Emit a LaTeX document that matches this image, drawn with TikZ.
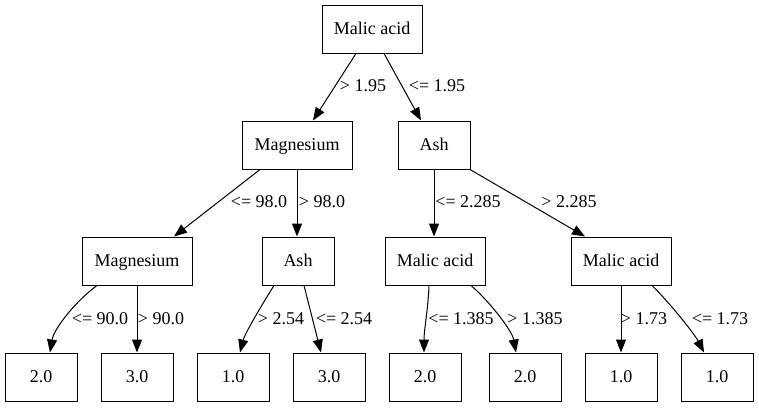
\documentclass[tikz,border=0pt]{standalone}
\usepackage{fontspec}
\setmainfont{Liberation Serif}
\usetikzlibrary{arrows.meta}
\begin{document}
\begin{tikzpicture}[x=1pt,y=1pt,
  box/.style={draw,line width=1pt,minimum height=48pt,inner sep=0pt,text height=13.5pt,text depth=3.5pt,font=\fontsize{18}{21}\selectfont},
  malic/.style={box,minimum width=100pt},
  magn/.style={box,minimum width=110pt},
  small/.style={box,minimum width=72pt},
  lbl/.style={inner sep=0pt,text height=13.5pt,text depth=3.5pt,font=\fontsize{18}{21}\selectfont},
  edge/.style={line width=1pt,-{Triangle[length=13pt,width=10pt]}}]
\useasboundingbox (0,0) rectangle (759,-407);
% nodes
\node[malic] (root) at (372,-29) {Malic acid};
\node[magn] (mg1) at (297,-145) {Magnesium};
\node[small] (ash1) at (434,-145) {Ash};
\node[magn] (mg2) at (137,-261) {Magnesium};
\node[small] (ash2) at (298,-261) {Ash};
\node[malic] (ma2) at (435,-261) {Malic acid};
\node[malic] (ma3) at (621,-261) {Malic acid};
\node[small] (l1) at (41,-377) {2.0};
\node[small] (l2) at (137,-377) {3.0};
\node[small] (l3) at (233,-377) {1.0};
\node[small] (l4) at (329,-377) {3.0};
\node[small] (l5) at (425,-377) {2.0};
\node[small] (l6) at (525,-377) {2.0};
\node[small] (l7) at (621,-377) {1.0};
\node[small] (l8) at (717,-377) {1.0};
% edges
\draw[edge] ([xshift=-16pt]root.south) -- ([xshift=16pt]mg1.north);
\draw[edge] ([xshift=12pt]root.south) -- ([xshift=-13pt]ash1.north);
\draw[edge] ([xshift=-37pt]mg1.south) -- ([xshift=37pt]mg2.north);
\draw[edge] (mg1.south) -- ([xshift=-1pt]ash2.north);
\draw[edge] (ash1.south) -- ([xshift=-1pt]ma2.north);
\draw[edge] ([xshift=36pt]ash1.south) -- ([xshift=-36pt]ma3.north);
\draw[edge] ([xshift=-40pt]mg2.south) .. controls (77,-300) and (54,-328) .. ([xshift=9pt]l1.north);
\draw[edge] (mg2.south) -- (l2.north);
\draw[edge] ([xshift=-24pt]ash2.south) .. controls (263,-303) and (245,-333) .. ([xshift=7pt]l3.north);
\draw[edge] ([xshift=6pt]ash2.south) -- ([xshift=-8pt]l4.north);
\draw[edge] ([xshift=-6pt]ma2.south) .. controls (428,-310) and (424,-330) .. ([xshift=-1pt]l5.north);
\draw[edge] ([xshift=36pt]ma2.south) .. controls (488,-300) and (512,-330) .. ([xshift=-9pt]l6.north);
\draw[edge] (ma3.south) -- (l7.north);
\draw[edge] ([xshift=31pt]ma3.south) .. controls (668,-301) and (694,-333) .. ([xshift=-13pt]l8.north);
% labels
\node[lbl] (e1) at (363,-86) {> 1.95};
\node[lbl] (e2) at (437,-86) {<= 1.95};
\node[lbl] (e3) at (259,-202) {<= 98.0};
\node[lbl] (e4) at (322,-202) {> 98.0};
\node[lbl] (e5) at (468,-202) {<= 2.285};
\node[lbl] (e6) at (569,-202) {> 2.285};
\node[lbl] (e7) at (100,-319) {<= 90.0};
\node[lbl] (e8) at (161,-319) {> 90.0};
\node[lbl] (e9) at (281,-319) {> 2.54};
\node[lbl] (e10) at (344,-319) {<= 2.54};
\node[lbl] (e11) at (461,-319) {<= 1.385};
\node[lbl] (e12) at (535,-319) {> 1.385};
\node[lbl] (e13) at (644,-319) {> 1.73};
\node[lbl] (e14) at (720,-319) {<= 1.73};
\end{tikzpicture}
\end{document}
